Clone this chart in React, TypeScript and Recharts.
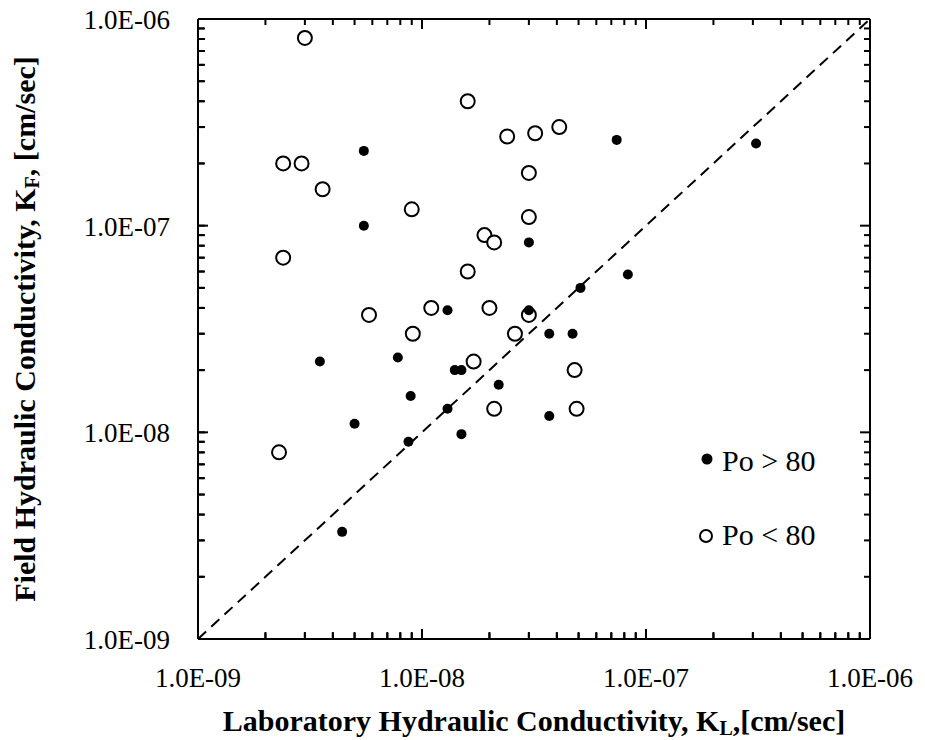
import React from 'react';
import {
  Legend,
  ReferenceLine,
  Scatter,
  ScatterChart,
  XAxis,
  YAxis,
} from 'recharts';

// Po > 80 (filled)
const highLab = [5.5e-9, 7.4e-8, 3.1e-7, 5.5e-9, 3.0e-8, 8.3e-8, 5.1e-8, 1.3e-8, 3.0e-8, 3.7e-8, 4.7e-8, 3.5e-9, 7.8e-9, 1.4e-8, 1.5e-8, 2.2e-8, 8.9e-9, 1.3e-8, 3.7e-8, 5.0e-9, 8.7e-9, 1.5e-8, 4.4e-9];
const highField = [2.3e-7, 2.6e-7, 2.5e-7, 1.0e-7, 8.3e-8, 5.8e-8, 5.0e-8, 3.9e-8, 3.9e-8, 3.0e-8, 3.0e-8, 2.2e-8, 2.3e-8, 2.0e-8, 2.0e-8, 1.7e-8, 1.5e-8, 1.3e-8, 1.2e-8, 1.1e-8, 9.0e-9, 9.8e-9, 3.3e-9];

// Po < 80 (open)
const lowLab = [3.0e-9, 1.6e-8, 2.4e-8, 3.2e-8, 4.1e-8, 2.4e-9, 2.9e-9, 3.6e-9, 3.0e-8, 9.0e-9, 3.0e-8, 1.9e-8, 2.1e-8, 2.4e-9, 1.6e-8, 5.8e-9, 1.1e-8, 2.0e-8, 3.0e-8, 9.1e-9, 2.6e-8, 1.7e-8, 4.8e-8, 2.1e-8, 4.9e-8, 2.3e-9];
const lowField = [8.1e-7, 4.0e-7, 2.7e-7, 2.8e-7, 3.0e-7, 2.0e-7, 2.0e-7, 1.5e-7, 1.8e-7, 1.2e-7, 1.1e-7, 9.0e-8, 8.3e-8, 7.0e-8, 6.0e-8, 3.7e-8, 4.0e-8, 4.0e-8, 3.7e-8, 3.0e-8, 3.0e-8, 2.2e-8, 2.0e-8, 1.3e-8, 1.3e-8, 8.0e-9];

const decades = [1e-9, 1e-8, 1e-7, 1e-6];
const minorSteps = [2, 3, 4, 5, 6, 7, 8, 9];
const seriesNames = ['Po > 80', 'Po < 80'];

const domain: [number, number] = [1e-9, 1e-6];
const ticks = [
  ...decades,
  ...decades.slice(0, -1).flatMap((d) => minorSteps.map((m) => m * d)),
].sort((a, b) => a - b);

const highData = highLab.map((x, i) => ({ lab: x, field: highField[i] }));
const lowData = lowLab.map((x, i) => ({ lab: x, field: lowField[i] }));

const W = 925;
const H = 740;
const margin = { top: 19, right: 55, bottom: 0, left: 0 };
const X_AXIS_H = 101;
const Y_AXIS_W = 198;
const PLOT_TOP = margin.top;
const PLOT_RIGHT = W - margin.right;
const PLOT_CX = (Y_AXIS_W + PLOT_RIGHT) / 2;
const PLOT_CY = (PLOT_TOP + H - X_AXIS_H) / 2;
const BASE_TICK = 7; // built-in inward tick length

const FONT = '"Liberation Serif", "Times New Roman", serif';

const isMajor = (v: number) => Math.abs(Math.log10(v) - Math.round(Math.log10(v))) < 1e-6;
const fmt = (v: number) => {
  const e = Math.round(Math.log10(v));
  return `1.0E-${String(-e).padStart(2, '0')}`;
};
const tickLen = (v: number) => (isMajor(v) ? 10 : 6);

// bottom ticks (plus mirrored ticks on the top edge)
const XTick = (props: any) => {
  const { x, payload } = props;
  const y0 = props.y + BASE_TICK;
  const len = tickLen(payload.value);
  return (
    <g>
      <line x1={x} y1={y0} x2={x} y2={y0 - len} stroke='#000' strokeWidth={2} />
      <line x1={x} y1={PLOT_TOP} x2={x} y2={PLOT_TOP + len} stroke='#000' strokeWidth={2} />
      {isMajor(payload.value) && (
        <text x={x} y={y0 + 48} textAnchor='middle' fill='#000' fontSize={27} fontFamily={FONT}>
          {fmt(payload.value)}
        </text>
      )}
    </g>
  );
};

// left ticks (plus mirrored ticks on the right edge)
const YTick = (props: any) => {
  const { y, payload } = props;
  const x0 = props.x - BASE_TICK;
  const len = tickLen(payload.value);
  return (
    <g>
      <line x1={x0} y1={y} x2={x0 + len} y2={y} stroke='#000' strokeWidth={2} />
      <line x1={PLOT_RIGHT} y1={y} x2={PLOT_RIGHT - len} y2={y} stroke='#000' strokeWidth={2} />
      {isMajor(payload.value) && (
        <text x={x0 - 28} y={y + 10} textAnchor='end' fill='#000' fontSize={27} fontFamily={FONT}>
          {fmt(payload.value)}
        </text>
      )}
    </g>
  );
};

const FilledDot = (props: any) => <circle cx={props.cx} cy={props.cy} r={5} fill='#000' />;
const OpenDot = (props: any) => (
  <circle cx={props.cx} cy={props.cy} r={7} fill='#fff' stroke='#000' strokeWidth={2} />
);

// legend entries and axis titles
const Overlay = () => (
  <svg width={W} height={H} style={{ display: 'block' }}>
    <circle cx={707} cy={459} r={5.5} fill='#000' />
    <text x={722} y={471} fontSize={30} fontFamily={FONT} fill='#000'>
      {seriesNames[0]}
    </text>
    <circle cx={706} cy={536} r={6} fill='#fff' stroke='#000' strokeWidth={2} />
    <text x={722} y={545} fontSize={30} fontFamily={FONT} fill='#000'>
      {seriesNames[1]}
    </text>
    <text x={PLOT_CX} y={731} textAnchor='middle' fontSize={30} fontWeight='bold' fontFamily={FONT} fill='#000'>
      Laboratory Hydraulic Conductivity, K
      <tspan fontSize={20} dy={4}>L</tspan>
      <tspan dy={-4}>,[cm/sec]</tspan>
    </text>
    <text
      x={35}
      y={PLOT_CY}
      transform={`rotate(-90, 35, ${PLOT_CY})`}
      textAnchor='middle'
      fontSize={30}
      fontWeight='bold'
      fontFamily={FONT}
      fill='#000'
    >
      Field Hydraulic Conductivity, K
      <tspan fontSize={20} dy={4}>F</tspan>
      <tspan dy={-4}>, [cm/sec]</tspan>
    </text>
  </svg>
);

const axisLine = { stroke: '#000', strokeWidth: 2 };
const tickLine = { stroke: '#000', strokeWidth: 2 };

const App = () => {
  return (
    <div style={{ position: 'absolute', left: 0, top: 0 }}>
      <ScatterChart width={W} height={H} margin={margin}>
        <XAxis
          xAxisId='b'
          orientation='bottom'
          type='number'
          dataKey='lab'
          scale='log'
          domain={domain}
          allowDataOverflow
          ticks={ticks}
          interval={0}
          height={X_AXIS_H}
          tickSize={-BASE_TICK}
          tickMargin={0}
          tickLine={tickLine}
          axisLine={axisLine}
          tick={XTick}
        />
        <YAxis
          yAxisId='l'
          orientation='left'
          type='number'
          dataKey='field'
          scale='log'
          domain={domain}
          allowDataOverflow
          ticks={ticks}
          interval={0}
          width={Y_AXIS_W}
          tickSize={-BASE_TICK}
          tickMargin={0}
          tickLine={tickLine}
          axisLine={axisLine}
          tick={YTick}
        />
        {/* top and right frame */}
        <ReferenceLine xAxisId='b' yAxisId='l' y={domain[1]} stroke='#000' strokeWidth={2} />
        <ReferenceLine xAxisId='b' yAxisId='l' x={domain[1]} stroke='#000' strokeWidth={2} />
        <ReferenceLine
          xAxisId='b'
          yAxisId='l'
          segment={[
            { x: domain[0], y: domain[0] },
            { x: domain[1], y: domain[1] },
          ]}
          stroke='#000'
          strokeWidth={2}
          strokeDasharray='11 7'
        />
        <Scatter
          xAxisId='b'
          yAxisId='l'
          name={seriesNames[1]}
          data={lowData}
          shape={OpenDot}
          isAnimationActive={false}
        />
        <Scatter
          xAxisId='b'
          yAxisId='l'
          name={seriesNames[0]}
          data={highData}
          shape={FilledDot}
          isAnimationActive={false}
        />
        <Legend
          layout='horizontal'
          verticalAlign='middle'
          align='center'
          content={<Overlay />}
          wrapperStyle={{ left: 0, top: 0, width: W, height: H, pointerEvents: 'none' }}
        />
      </ScatterChart>
    </div>
  );
};

export default App;
